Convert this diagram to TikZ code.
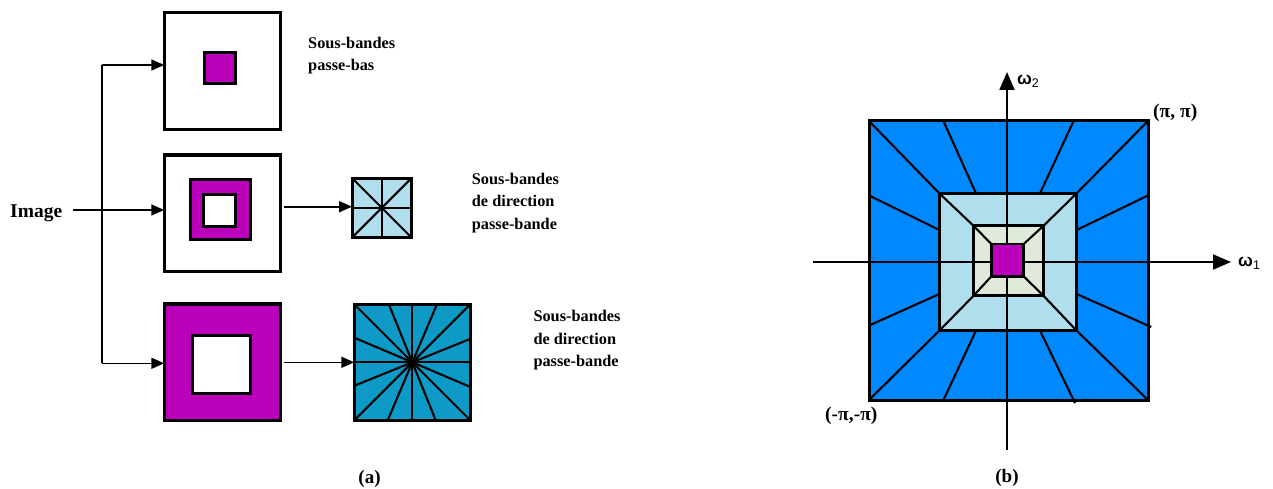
\documentclass[tikz,border=0pt]{standalone}
\usepackage{fontspec}
\setmainfont{Liberation Serif}
\newfontfamily\omegafont{Liberation Sans}
\usetikzlibrary{arrows.meta}

\definecolor{bandmag}{RGB}{187,0,187}
\definecolor{bandlight}{RGB}{176,222,236}
\definecolor{bandteal}{RGB}{14,154,198}
\definecolor{bandblue}{RGB}{0,136,255}
\definecolor{bandpale}{RGB}{224,234,218}

\begin{document}
\begin{tikzpicture}[x=1pt,y=-1pt,
  sq/.style={draw, line width=#1, inner sep=0pt, outer sep=0pt},
  sq/.default=3.2pt,
  flow/.style={line width=1.6pt, -{Triangle[length=13pt,width=11pt]}},
  wire/.style={line width=1.6pt},
  ray/.style={line width=2.1pt},
  axis/.style={line width=2pt, -{Triangle[length=18pt,width=15pt]}},
  lbl/.style={font=\bfseries\fontsize{16.3}{22.5}\selectfont, inner sep=0pt, anchor=base west, align=left},
  partlbl/.style={font=\bfseries\fontsize{19}{22}\selectfont, inner sep=0pt, anchor=base},
  coordlbl/.style={font=\bfseries\fontsize{19.5}{22}\selectfont, inner sep=0pt, anchor=base west},
]
\useasboundingbox (0,0) rectangle (1273,489);

% ---------- (a) filter bank ----------
% low-pass branch
\node[sq, minimum size=116.5pt] (b1) at (222.5,71) {};
\node[sq=3pt, fill=bandmag, minimum size=31pt] (b1c) at (219.7,68.3) {};

% first band-pass branch
\node[sq, minimum size=116.5pt] (b2) at (222.5,213.3) {};
\node[sq=3pt, fill=bandmag, minimum size=60pt] (b2r) at (220,209.2) {};
\node[sq=3pt, fill=white, minimum size=32pt] (b2h) at (219.8,210.5) {};

% second band-pass branch
\node[sq, fill=bandmag, minimum size=116.5pt] (b3) at (222.5,362.3) {};
\node[sq=3pt, fill=white, minimum size=58pt] (b3h) at (221.7,364.2) {};

% directional sub-band grids
\node[sq=3pt, fill=bandlight, minimum size=59.5pt] (g1) at (381.8,207.8) {};
\foreach \a in {0,45,...,315} \draw[ray] (g1.center) -- (g1.\a);
\node[sq=3pt, minimum size=59.5pt] at (g1.center) {};

\node[sq=3.2pt, fill=bandteal, minimum size=116pt] (g2) at (412.3,362.3) {};
\foreach \a in {0,22.5,...,337.5} \draw[ray] (g2.center) -- (g2.\a);
\node[sq=3.2pt, minimum size=116pt] at (g2.center) {};

% input and connections
\node[font=\bfseries\fontsize{19.5}{22}\selectfont, inner sep=0pt, anchor=base west] (img) at (10,217.3) {Image};
\coordinate (j1) at (101.7,65);
\coordinate (j3) at (101.7,363.3);
\coordinate (ji) at (72.7,210);
\draw[flow] (ji) -- (ji -| b2.west);
\draw[wire] (j1) -- (j3);
\draw[flow] (j1) -- (j1 -| b1.west);
\draw[flow] (j3) -- (j3 -| b3.west);
\coordinate (k2) at (284.2,206.7);
\draw[flow] (k2) -- (k2 -| g1.west);
\coordinate (k3) at (284.2,362.3);
\draw[flow] (k3) -- (k3 -| g2.west);

% labels (anchored on the baseline of their last line)
\node[lbl] (t1) at (308,70.7) {Sous-bandes\\passe-bas};
\node[lbl] (t2) at (471.7,229.3) {Sous-bandes\\de direction\\passe-bande};
\node[lbl] (t3) at (533.3,366.7) {Sous-bandes\\de direction\\passe-bande};
\node[partlbl] (ca) at (369.5,483) {(a)};

% ---------- (b) frequency tiling ----------
\node[sq=3pt, fill=bandblue, minimum size=279pt] (o) at (1008.5,260.5) {};
\node[sq=3pt, fill=bandlight, minimum size=137pt] (m) at (1008,262) {};
\node[sq=3pt, fill=bandpale, minimum size=70pt] (i) at (1008.5,260.8) {};

% wedge boundaries
\foreach \a in {45,135,225,315} {
  \draw[ray] (m.\a) -- (o.\a);
  \draw[ray] (i.\a) -- (m.\a);
}
\foreach \a in {25,65,115,155,205,245} \draw[ray] (m.\a) -- (o.\a);
\foreach \a in {295,335} \draw[ray, shorten >=-3.5pt] (m.\a) -- (o.\a);

% frequency axes
\coordinate (vb) at (1007,450);
\coordinate (vt) at (1007,72);
\coordinate (hl) at (813,262);
\coordinate (hr) at (1231,262);
\draw[axis] (vb) -- (vt);
\draw[axis] (hl) -- (hr);

% low-pass core and its wedges
\node[sq=2.6pt, fill=bandmag, minimum size=32.5pt] (c) at (1007.5,260.2) {};
\foreach \a in {45,135,225,315} \draw[ray] (c.\a) -- (i.\a);
\node[sq=3pt, minimum size=70pt] at (i.center) {};
\node[sq=3pt, minimum size=137pt] at (m.center) {};

% axis and corner labels
\node[font=\omegafont\bfseries\fontsize{17.5}{20}\selectfont, inner sep=0pt, anchor=base west] (w2) at (1017,85)
  {ω\raisebox{-0.25ex}{\mdseries\fontsize{12.5}{12}\selectfont 2}};
\node[font=\omegafont\bfseries\fontsize{17.5}{20}\selectfont, inner sep=0pt, anchor=base west] (w1) at (1238,266.7)
  {ω\raisebox{-0.25ex}{\mdseries\fontsize{12.5}{12}\selectfont 1}};
\node[coordlbl] (pp) at (1153,118) {(π, π)};
\node[coordlbl] (mm) at (825,420.7) {(-π,-π)};
\node[partlbl] (cb) at (1007,482) {(b)};
\end{tikzpicture}
\end{document}
